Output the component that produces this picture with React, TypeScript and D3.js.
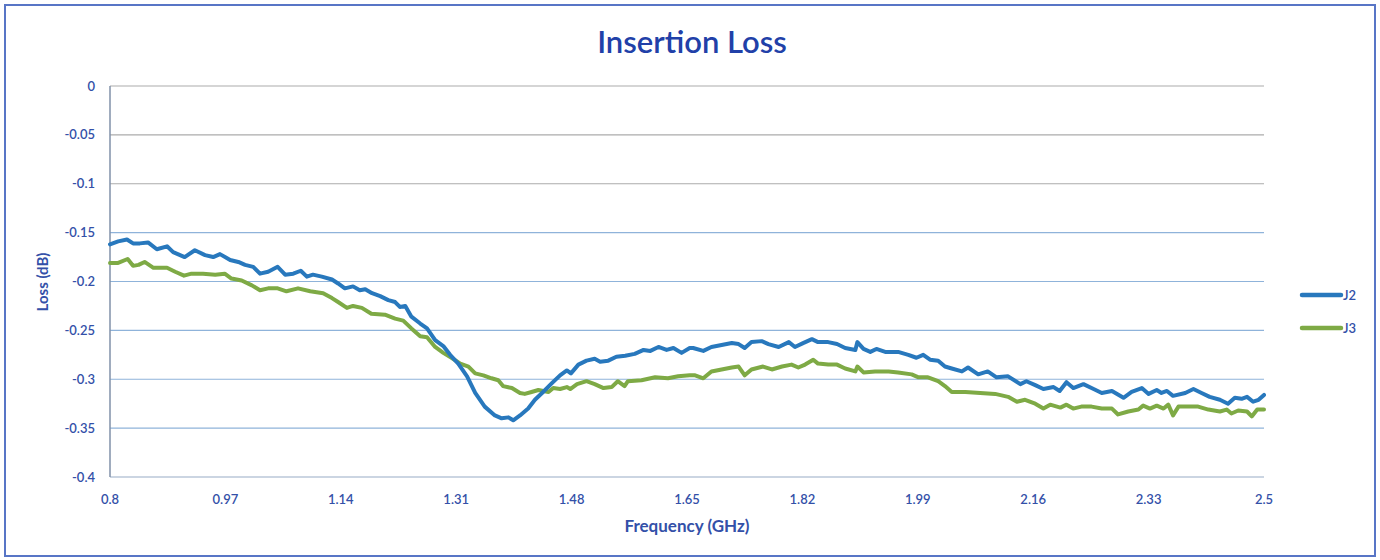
import React, { useEffect, useRef } from "react";
import * as d3 from "d3";

const title = "Insertion Loss";
const xTitle = "Frequency (GHz)";
const yTitle = "Loss (dB)";
const xTicks = [0.8, 0.97, 1.14, 1.31, 1.48, 1.65, 1.82, 1.99, 2.16, 2.33, 2.5];
const yTicks = [0, -0.05, -0.1, -0.15, -0.2, -0.25, -0.3, -0.35, -0.4];
const seriesNames = ["J2", "J3"];

const j2Freq = [0.800,0.812,0.825,0.834,0.844,0.856,0.869,0.884,0.893,0.910,0.925,0.940,0.952,0.962,0.977,0.989,0.999,1.011,1.021,1.033,1.047,1.058,1.070,1.081,1.090,1.099,1.112,1.127,1.136,1.146,1.158,1.168,1.176,1.186,1.198,1.210,1.220,1.227,1.235,1.244,1.257,1.267,1.279,1.291,1.301,1.313,1.326,1.338,1.352,1.367,1.377,1.387,1.394,1.404,1.416,1.426,1.438,1.451,1.463,1.473,1.479,1.490,1.502,1.514,1.522,1.534,1.546,1.559,1.573,1.586,1.596,1.608,1.620,1.630,1.642,1.654,1.659,1.674,1.686,1.701,1.716,1.726,1.735,1.745,1.760,1.770,1.785,1.800,1.809,1.821,1.834,1.843,1.858,1.871,1.883,1.898,1.901,1.910,1.920,1.929,1.942,1.961,1.976,1.988,1.998,2.008,2.020,2.030,2.040,2.055,2.064,2.079,2.093,2.106,2.123,2.141,2.150,2.163,2.175,2.190,2.199,2.209,2.219,2.234,2.249,2.261,2.276,2.293,2.305,2.320,2.330,2.342,2.349,2.357,2.366,2.384,2.396,2.408,2.420,2.435,2.447,2.457,2.467,2.475,2.484,2.492,2.500];
const j2Loss = [-0.162,-0.159,-0.157,-0.161,-0.161,-0.160,-0.167,-0.164,-0.170,-0.175,-0.168,-0.173,-0.175,-0.172,-0.178,-0.180,-0.183,-0.185,-0.192,-0.190,-0.185,-0.193,-0.192,-0.189,-0.195,-0.193,-0.195,-0.198,-0.202,-0.207,-0.205,-0.209,-0.208,-0.212,-0.215,-0.219,-0.221,-0.226,-0.225,-0.236,-0.243,-0.248,-0.260,-0.266,-0.275,-0.284,-0.297,-0.314,-0.328,-0.337,-0.340,-0.339,-0.342,-0.337,-0.330,-0.321,-0.313,-0.304,-0.296,-0.291,-0.294,-0.285,-0.281,-0.279,-0.282,-0.281,-0.277,-0.276,-0.274,-0.270,-0.271,-0.267,-0.270,-0.268,-0.273,-0.268,-0.268,-0.271,-0.267,-0.265,-0.263,-0.264,-0.268,-0.262,-0.261,-0.264,-0.267,-0.262,-0.267,-0.263,-0.259,-0.262,-0.262,-0.264,-0.268,-0.270,-0.262,-0.269,-0.272,-0.269,-0.272,-0.272,-0.275,-0.278,-0.275,-0.280,-0.281,-0.287,-0.289,-0.292,-0.288,-0.295,-0.292,-0.298,-0.297,-0.305,-0.302,-0.306,-0.310,-0.308,-0.312,-0.303,-0.309,-0.305,-0.310,-0.314,-0.312,-0.319,-0.313,-0.309,-0.315,-0.311,-0.314,-0.312,-0.317,-0.314,-0.310,-0.314,-0.318,-0.321,-0.325,-0.319,-0.320,-0.318,-0.323,-0.321,-0.316];

const j3Freq = [0.800,0.812,0.826,0.834,0.842,0.851,0.864,0.884,0.896,0.909,0.920,0.937,0.955,0.969,0.979,0.994,1.009,1.021,1.033,1.047,1.060,1.077,1.095,1.114,1.127,1.136,1.149,1.158,1.171,1.185,1.205,1.220,1.232,1.244,1.257,1.267,1.279,1.291,1.303,1.316,1.328,1.338,1.350,1.362,1.372,1.379,1.392,1.404,1.411,1.421,1.431,1.446,1.453,1.463,1.473,1.478,1.488,1.502,1.514,1.527,1.539,1.548,1.558,1.563,1.583,1.603,1.622,1.637,1.654,1.662,1.674,1.686,1.701,1.716,1.726,1.735,1.745,1.762,1.775,1.790,1.804,1.814,1.824,1.836,1.843,1.858,1.871,1.883,1.898,1.901,1.910,1.927,1.947,1.961,1.981,1.991,2.005,2.020,2.030,2.040,2.060,2.082,2.104,2.123,2.136,2.148,2.163,2.175,2.185,2.200,2.209,2.219,2.231,2.246,2.261,2.276,2.285,2.300,2.315,2.322,2.332,2.342,2.352,2.359,2.366,2.374,2.389,2.403,2.418,2.435,2.445,2.452,2.462,2.475,2.482,2.490,2.500];
const j3Loss = [-0.181,-0.181,-0.177,-0.184,-0.183,-0.180,-0.186,-0.186,-0.190,-0.194,-0.192,-0.192,-0.193,-0.192,-0.197,-0.199,-0.204,-0.209,-0.207,-0.207,-0.210,-0.207,-0.210,-0.212,-0.217,-0.221,-0.227,-0.225,-0.227,-0.233,-0.234,-0.238,-0.240,-0.248,-0.256,-0.257,-0.267,-0.273,-0.278,-0.284,-0.287,-0.294,-0.296,-0.299,-0.301,-0.307,-0.309,-0.314,-0.315,-0.313,-0.311,-0.313,-0.309,-0.310,-0.308,-0.310,-0.305,-0.302,-0.305,-0.309,-0.308,-0.302,-0.307,-0.302,-0.301,-0.298,-0.299,-0.297,-0.296,-0.296,-0.299,-0.292,-0.290,-0.288,-0.287,-0.296,-0.290,-0.287,-0.290,-0.287,-0.285,-0.288,-0.285,-0.280,-0.284,-0.285,-0.285,-0.289,-0.292,-0.287,-0.293,-0.292,-0.292,-0.293,-0.295,-0.298,-0.298,-0.302,-0.307,-0.313,-0.313,-0.314,-0.315,-0.318,-0.323,-0.321,-0.325,-0.330,-0.326,-0.329,-0.326,-0.330,-0.328,-0.328,-0.330,-0.330,-0.336,-0.333,-0.331,-0.327,-0.330,-0.327,-0.330,-0.326,-0.337,-0.328,-0.328,-0.328,-0.331,-0.333,-0.331,-0.335,-0.332,-0.333,-0.338,-0.331,-0.331];

const W = 1380;
const H = 560;
const FONT = "Lato, 'Open Sans', sans-serif";
const TEXT_BLUE = "#3350a8";
const COLORS = ["#2878bd", "#7eaa45"];

export default function App() {
  const ref = useRef<SVGSVGElement>(null);

  useEffect(() => {
    document.body.style.margin = "0";
    const svg = d3.select(ref.current);
    svg.selectAll("*").remove();

    const left = 110, right = 1264, top = 86, bottom = 477;
    const x = d3.scaleLinear().domain([0.8, 2.5]).range([left, right]);
    const y = d3.scaleLinear().domain([-0.4, 0]).range([bottom, top]);

    svg.append("rect").attr("x", 0).attr("y", 0).attr("width", W).attr("height", H).attr("fill", "#ffffff");
    svg.append("rect").attr("x", 5).attr("y", 5).attr("width", 1370).attr("height", 551)
      .attr("fill", "none").attr("stroke", "#5875c6").attr("stroke-width", 2);

    // gridlines
    svg.append("g").selectAll("line").data(yTicks).join("line")
      .attr("x1", left).attr("x2", right)
      .attr("y1", (d) => y(d)).attr("y2", (d) => y(d))
      .attr("stroke", (d) => (d > -0.12 ? "#ababab" : d === -0.4 ? "#98acc6" : "#8fb3da"))
      .attr("stroke-width", 1.2);

    // left axis
    svg.append("line").attr("x1", left).attr("x2", left).attr("y1", top).attr("y2", bottom)
      .attr("stroke", "#8090a8").attr("stroke-width", 1.5);

    // y tick labels
    svg.append("g").selectAll("text").data(yTicks).join("text")
      .attr("x", 95).attr("y", (d) => y(d)).attr("dy", "0.35em")
      .attr("text-anchor", "end").attr("font-family", FONT).attr("font-size", 13)
      .attr("font-weight", 600)
      .attr("fill", TEXT_BLUE)
      .text((d) => (d === 0 ? "0" : String(d)));

    // x tick labels
    svg.append("g").selectAll("text").data(xTicks).join("text")
      .attr("x", (d) => x(d)).attr("y", 504)
      .attr("text-anchor", "middle").attr("font-family", FONT).attr("font-size", 13)
      .attr("font-weight", 600)
      .attr("fill", TEXT_BLUE)
      .text((d) => String(d));

    // title
    svg.append("text").attr("x", 692).attr("y", 53).attr("text-anchor", "middle")
      .attr("font-family", FONT).attr("font-size", 31).attr("font-weight", 600)
      .attr("fill", "#2140a8").text(title);

    svg.append("text").attr("x", 687).attr("y", 532).attr("text-anchor", "middle")
      .attr("font-family", FONT).attr("font-size", 17).attr("font-weight", 700)
      .attr("fill", TEXT_BLUE).text(xTitle);

    svg.append("text").attr("transform", "translate(48,282) rotate(-90)")
      .attr("text-anchor", "middle")
      .attr("font-family", FONT).attr("font-size", 15).attr("font-weight", 700)
      .attr("fill", TEXT_BLUE).text(yTitle);

    const series = [
      { name: seriesNames[0], pts: j2Freq.map((f, i) => [f, j2Loss[i]] as [number, number]) },
      { name: seriesNames[1], pts: j3Freq.map((f, i) => [f, j3Loss[i]] as [number, number]) },
    ];
    const line = d3.line<[number, number]>().x((d) => x(d[0])).y((d) => y(d[1]));

    series.slice().reverse().forEach((s) => {
      const idx = seriesNames.indexOf(s.name);
      svg.append("path").attr("d", line(s.pts) as string).attr("fill", "none")
        .attr("stroke", COLORS[idx]).attr("stroke-width", 4)
        .attr("stroke-linejoin", "round").attr("stroke-linecap", "round");
    });

    // legend
    const lg = svg.append("g");
    seriesNames.forEach((n, i) => {
      const ly = 295 + i * 33;
      lg.append("line").attr("x1", 1302).attr("x2", 1341).attr("y1", ly).attr("y2", ly)
        .attr("stroke", COLORS[i]).attr("stroke-width", 4.5).attr("stroke-linecap", "round");
      lg.append("text").attr("x", 1343).attr("y", ly).attr("dy", "0.35em")
        .attr("font-family", FONT).attr("font-size", 13).attr("font-weight", 600)
        .attr("fill", TEXT_BLUE).text(n);
    });
  }, []);

  return (
    <div style={{ position: "absolute", left: 0, top: 0 }}>
      <svg ref={ref} width={W} height={H} />
    </div>
  );
}
